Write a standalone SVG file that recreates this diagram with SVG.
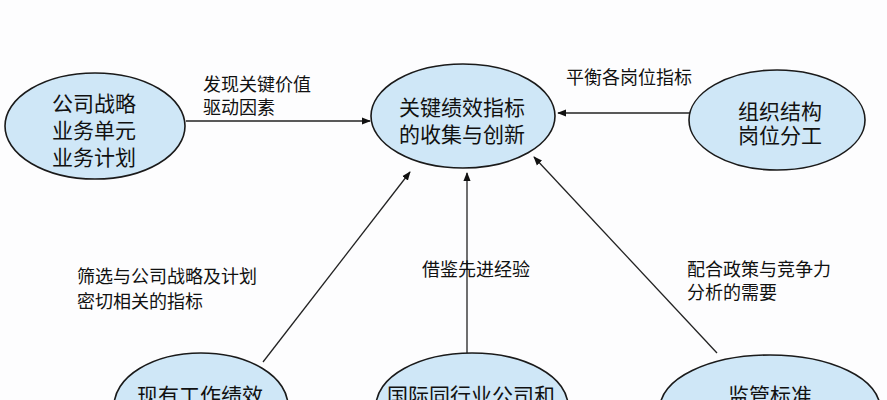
<svg xmlns="http://www.w3.org/2000/svg" width="887" height="400" viewBox="0 0 887 400">
<style>
.node{fill:#cfe7f7;stroke:#1a1a1a;stroke-width:1.6}
.nt{font-family:"Noto Sans CJK SC","Liberation Sans",sans-serif;font-size:21px;fill:#111;text-anchor:middle}
.lb{font-family:"Noto Sans CJK SC","Liberation Sans",sans-serif;font-size:18px;fill:#111}
.ln{fill:none;stroke:#222;stroke-width:1.3}
</style>
<defs>
<marker id="arr" viewBox="0 0 10 10" refX="9" refY="5" markerWidth="9" markerHeight="9" markerUnits="userSpaceOnUse" orient="auto">
<path d="M0,1 L10,5 L0,9 z" fill="#111"/>
</marker>
</defs>
<rect width="887" height="400" fill="#fdfdfe"/>
<g id="connectors">
<line class="ln" x1="186" y1="121" x2="370" y2="121" marker-end="url(#arr)"/>
<line class="ln" x1="690" y1="113" x2="558" y2="113" marker-end="url(#arr)"/>
<line class="ln" x1="263" y1="362" x2="410" y2="172" marker-end="url(#arr)"/>
<line class="ln" x1="467" y1="353" x2="467" y2="173" marker-end="url(#arr)" stroke="#444"/>
<line class="ln" x1="717" y1="353" x2="534" y2="157" marker-end="url(#arr)"/>
<text class="lb" x="203" y="91">发现关键价值</text>
<text class="lb" x="203" y="114">驱动因素</text>
<text class="lb" x="566" y="84">平衡各岗位指标</text>
<text class="lb" x="77" y="283">筛选与公司战略及计划</text>
<text class="lb" x="77" y="308">密切相关的指标</text>
<text class="lb" x="422" y="276">借鉴先进经验</text>
<text class="lb" x="687" y="276">配合政策与竞争力</text>
<text class="lb" x="687" y="299">分析的需要</text>
</g>
<g id="node-strategy">
<ellipse class="node" cx="95" cy="126" rx="90" ry="53"/>
<text class="nt" x="94" y="111">公司战略</text>
<text class="nt" x="94" y="138">业务单元</text>
<text class="nt" x="94" y="165">业务计划</text>
</g>
<g id="node-kpi">
<ellipse class="node" cx="463" cy="116" rx="92" ry="52"/>
<text class="nt" x="462" y="115">关键绩效指标</text>
<text class="nt" x="462" y="142">的收集与创新</text>
</g>
<g id="node-org">
<ellipse class="node" cx="777" cy="120" rx="88" ry="50"/>
<text class="nt" x="780" y="119">组织结构</text>
<text class="nt" x="780" y="143">岗位分工</text>
</g>
<g id="node-current">
<ellipse class="node" cx="201" cy="406" rx="87" ry="53"/>
<text class="nt" x="200" y="403">现有工作绩效</text>
</g>
<g id="node-intl">
<ellipse class="node" cx="472" cy="406" rx="96" ry="53"/>
<text class="nt" x="471" y="403">国际同行业公司和</text>
</g>
<g id="node-reg">
<ellipse class="node" cx="770" cy="408" rx="110" ry="53"/>
<text class="nt" x="770" y="403">监管标准</text>
</g>
</svg>
